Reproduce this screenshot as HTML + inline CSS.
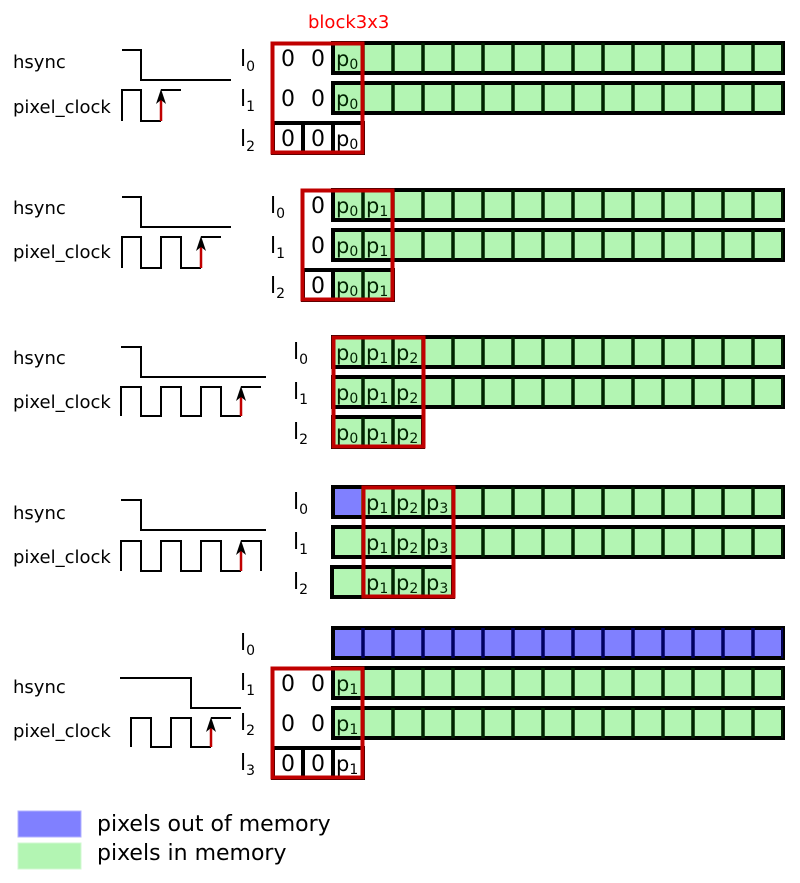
<!DOCTYPE html>
<html><head><meta charset="utf-8"><style>
html,body{margin:0;padding:0;background:#fff;}
svg{display:block;}
text{font-family:"DejaVu Sans","Liberation Sans",sans-serif;}
.g{fill:#b3f5b3;stroke:#000;stroke-width:4;}
.b{fill:#8080ff;stroke:#000;stroke-width:4;}
.w{fill:#fff;stroke:#000;stroke-width:4;}
.d{stroke:#002200;stroke-width:30;stroke-dasharray:3.5 26.5;}
.db{stroke:#000060;stroke-width:30;stroke-dasharray:3.5 26.5;}
.r{fill:none;stroke:#c00000;stroke-width:4;}
.wv{fill:none;stroke:#000;stroke-width:2;}
.ar{stroke:#c00000;stroke-width:2.5;}
.lb{font-size:18px;fill:#000;}
.c{font-size:22px;fill:#000;}
.p{font-size:21px;fill:#002200;}
.pw{font-size:21px;fill:#000;}
.s{font-size:14px;}
</style></head><body>
<svg width="800" height="883" viewBox="0 0 800 883" xmlns="http://www.w3.org/2000/svg">

<!-- ===== Section 1 ===== -->
<text x="308" y="28" font-size="18" fill="#ff0000">block3x3</text>
<text x="13" y="68" class="lb">hsync</text>
<text x="13" y="113" class="lb">pixel_clock</text>
<path class="wv" d="M122 50H141V80H231"/>
<path class="wv" d="M122 121V90H141V121H161"/>
<line class="ar" x1="161" y1="121" x2="161" y2="96"/>
<path d="M156 104 L161 89 L166 104 L161 100 Z"/>
<path class="wv" d="M161 90H181"/>
<text x="240" y="66" class="c">l<tspan class="s" dy="5">0</tspan></text>
<text x="240" y="106" class="c">l<tspan class="s" dy="5">1</tspan></text>
<text x="240" y="146" class="c">l<tspan class="s" dy="5">2</tspan></text>
<rect class="g" x="333" y="43" width="450" height="30"/><line class="d" x1="361.25" x2="783" y1="58" y2="58"/>
<rect class="g" x="333" y="83" width="450" height="30"/><line class="d" x1="361.25" x2="783" y1="98" y2="98"/>
<rect class="w" x="273" y="123" width="90" height="30"/><path stroke="#000" stroke-width="4" d="M303 123v30M333 123v30"/>
<text x="281" y="66" class="c">0</text><text x="311" y="66" class="c">0</text><text x="336" y="66" class="p">p<tspan class="s" dy="3">0</tspan></text>
<text x="281" y="106" class="c">0</text><text x="311" y="106" class="c">0</text><text x="336" y="106" class="p">p<tspan class="s" dy="3">0</tspan></text>
<text x="281" y="146" class="c">0</text><text x="311" y="146" class="c">0</text><text x="336" y="146" class="pw">p<tspan class="s" dy="3">0</tspan></text>
<rect class="r" x="272.5" y="43.5" width="90" height="109"/>

<!-- ===== Section 2 ===== -->
<text x="13" y="214" class="lb">hsync</text>
<text x="13" y="258" class="lb">pixel_clock</text>
<path class="wv" d="M122 197H141V227H231"/>
<path class="wv" d="M122 268V237H141V268H161V237H181V268H201"/>
<line class="ar" x1="201" y1="268" x2="201" y2="243"/>
<path d="M196 251 L201 236 L206 251 L201 247 Z"/>
<path class="wv" d="M201 237H221"/>
<text x="270" y="213" class="c">l<tspan class="s" dy="5">0</tspan></text>
<text x="270" y="253" class="c">l<tspan class="s" dy="5">1</tspan></text>
<text x="270" y="293" class="c">l<tspan class="s" dy="5">2</tspan></text>
<rect class="g" x="333" y="190" width="450" height="30"/><line class="d" x1="361.25" x2="783" y1="205" y2="205"/>
<rect class="g" x="333" y="230" width="450" height="30"/><line class="d" x1="361.25" x2="783" y1="245" y2="245"/>
<rect class="g" x="333" y="270" width="60" height="30"/><line class="d" x1="361.25" x2="365" y1="285" y2="285"/>
<rect class="w" x="303" y="270" width="30" height="30"/>
<text x="311" y="213" class="c">0</text><text x="336" y="213" class="p">p<tspan class="s" dy="3">0</tspan></text><text x="366" y="213" class="p">p<tspan class="s" dy="3">1</tspan></text>
<text x="311" y="253" class="c">0</text><text x="336" y="253" class="p">p<tspan class="s" dy="3">0</tspan></text><text x="366" y="253" class="p">p<tspan class="s" dy="3">1</tspan></text>
<text x="311" y="293" class="c">0</text><text x="336" y="293" class="p">p<tspan class="s" dy="3">0</tspan></text><text x="366" y="293" class="p">p<tspan class="s" dy="3">1</tspan></text>
<rect class="r" x="302.5" y="190.5" width="90" height="109"/>

<!-- ===== Section 3 ===== -->
<text x="13" y="364" class="lb">hsync</text>
<text x="13" y="408" class="lb">pixel_clock</text>
<path class="wv" d="M121 347H141V377H266"/>
<path class="wv" d="M121 416V387H141V416H161V387H181V416H201V387H221V416H241"/>
<line class="ar" x1="241" y1="416" x2="241" y2="393"/>
<path d="M236 401 L241 386 L246 401 L241 397 Z"/>
<path class="wv" d="M241 387H261"/>
<text x="293" y="359" class="c">l<tspan class="s" dy="5">0</tspan></text>
<text x="293" y="399" class="c">l<tspan class="s" dy="5">1</tspan></text>
<text x="293" y="439" class="c">l<tspan class="s" dy="5">2</tspan></text>
<rect class="g" x="333" y="337" width="450" height="30"/><line class="d" x1="361.25" x2="783" y1="352" y2="352"/>
<rect class="g" x="333" y="377" width="450" height="30"/><line class="d" x1="361.25" x2="783" y1="392" y2="392"/>
<rect class="g" x="333" y="417" width="90" height="30"/><line class="d" x1="361.25" x2="395" y1="432" y2="432"/>
<text x="336" y="360" class="p">p<tspan class="s" dy="3">0</tspan></text><text x="366" y="360" class="p">p<tspan class="s" dy="3">1</tspan></text><text x="396" y="360" class="p">p<tspan class="s" dy="3">2</tspan></text>
<text x="336" y="400" class="p">p<tspan class="s" dy="3">0</tspan></text><text x="366" y="400" class="p">p<tspan class="s" dy="3">1</tspan></text><text x="396" y="400" class="p">p<tspan class="s" dy="3">2</tspan></text>
<text x="336" y="440" class="p">p<tspan class="s" dy="3">0</tspan></text><text x="366" y="440" class="p">p<tspan class="s" dy="3">1</tspan></text><text x="396" y="440" class="p">p<tspan class="s" dy="3">2</tspan></text>
<rect class="r" x="333.5" y="337.5" width="90" height="109"/>

<!-- ===== Section 4 ===== -->
<text x="13" y="519" class="lb">hsync</text>
<text x="13" y="563" class="lb">pixel_clock</text>
<path class="wv" d="M121 500H141V530H266"/>
<path class="wv" d="M121 571V541H141V571H161V541H181V571H201V541H221V571H241"/>
<line class="ar" x1="241" y1="571" x2="241" y2="547"/>
<path d="M236 555 L241 540 L246 555 L241 551 Z"/>
<path class="wv" d="M241 541H261V571"/>
<text x="293" y="509" class="c">l<tspan class="s" dy="5">0</tspan></text>
<text x="293" y="549" class="c">l<tspan class="s" dy="5">1</tspan></text>
<text x="293" y="589" class="c">l<tspan class="s" dy="5">2</tspan></text>
<rect class="g" x="333" y="487" width="450" height="30"/><rect x="335" y="489" width="26" height="26" fill="#8080ff"/><line class="d" x1="361.25" x2="783" y1="502" y2="502"/>
<rect class="g" x="333" y="527" width="450" height="30"/><line class="d" x1="361.25" x2="783" y1="542" y2="542"/>
<rect class="g" x="332" y="567" width="121" height="30"/><line class="d" x1="361.25" x2="425" y1="582" y2="582"/>
<text x="366" y="510" class="p">p<tspan class="s" dy="3">1</tspan></text><text x="396" y="510" class="p">p<tspan class="s" dy="3">2</tspan></text><text x="426" y="510" class="p">p<tspan class="s" dy="3">3</tspan></text>
<text x="366" y="550" class="p">p<tspan class="s" dy="3">1</tspan></text><text x="396" y="550" class="p">p<tspan class="s" dy="3">2</tspan></text><text x="426" y="550" class="p">p<tspan class="s" dy="3">3</tspan></text>
<text x="366" y="590" class="p">p<tspan class="s" dy="3">1</tspan></text><text x="396" y="590" class="p">p<tspan class="s" dy="3">2</tspan></text><text x="426" y="590" class="p">p<tspan class="s" dy="3">3</tspan></text>
<rect class="r" x="363.5" y="487.5" width="90" height="109"/>

<!-- ===== Section 5 ===== -->
<text x="13" y="693" class="lb">hsync</text>
<text x="13" y="737" class="lb">pixel_clock</text>
<path class="wv" d="M120 678H191V708H241"/>
<path class="wv" d="M131 747V718H151V747H171V718H191V747H211"/>
<line class="ar" x1="211" y1="747" x2="211" y2="724"/>
<path d="M206 732 L211 717 L216 732 L211 728 Z"/>
<path class="wv" d="M211 718H231"/>
<text x="240" y="650" class="c">l<tspan class="s" dy="5">0</tspan></text>
<text x="240" y="690" class="c">l<tspan class="s" dy="5">1</tspan></text>
<text x="240" y="730" class="c">l<tspan class="s" dy="5">2</tspan></text>
<text x="240" y="770" class="c">l<tspan class="s" dy="5">3</tspan></text>
<rect class="b" x="333" y="628" width="450" height="30"/><line class="db" x1="361.25" x2="783" y1="643" y2="643"/>
<rect class="g" x="333" y="668" width="450" height="30"/><line class="d" x1="361.25" x2="783" y1="683" y2="683"/>
<rect class="g" x="333" y="708" width="450" height="30"/><line class="d" x1="361.25" x2="783" y1="723" y2="723"/>
<rect class="w" x="273" y="748" width="90" height="30"/><path stroke="#000" stroke-width="4" d="M303 748v30M333 748v30"/>
<text x="281" y="691" class="c">0</text><text x="311" y="691" class="c">0</text><text x="336" y="691" class="p">p<tspan class="s" dy="3">1</tspan></text>
<text x="281" y="731" class="c">0</text><text x="311" y="731" class="c">0</text><text x="336" y="731" class="p">p<tspan class="s" dy="3">1</tspan></text>
<text x="281" y="771" class="c">0</text><text x="311" y="771" class="c">0</text><text x="336" y="771" class="pw">p<tspan class="s" dy="3">1</tspan></text>
<rect class="r" x="272.5" y="668.5" width="90" height="109"/>

<!-- ===== Legend ===== -->
<rect x="18" y="811" width="63" height="26" fill="#8080ff" stroke="#b0b0ff" stroke-width="1"/>
<rect x="18" y="843" width="63" height="26" fill="#b3f5b3" stroke="#d0f8d0" stroke-width="1"/>
<text x="97" y="831" font-size="22" fill="#000">pixels out of memory</text>
<text x="97" y="860" font-size="22" fill="#000">pixels in memory</text>
</svg>
</body></html>
